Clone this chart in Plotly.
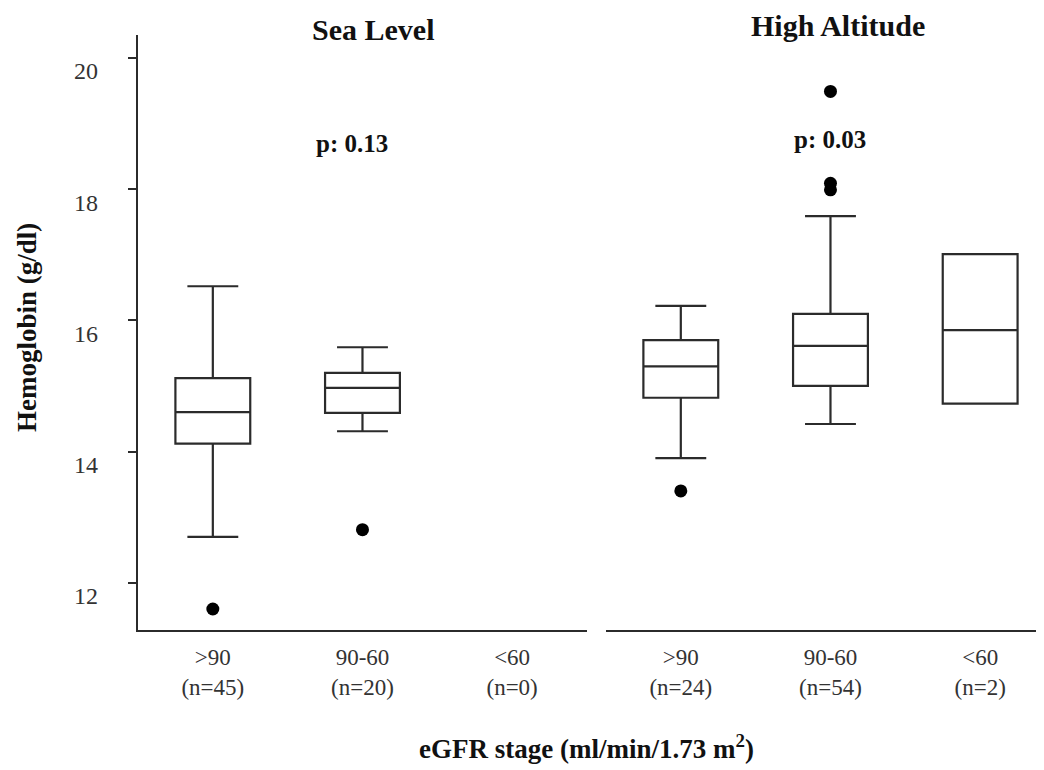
import plotly.graph_objects as go

# ---- data ----
stages = [">90", "90-60", "<60"]
sl_n = [45, 20, 0]
ha_n = [24, 54, 2]

# Sea level boxes (for >90 and 90-60; <60 has no data)
sl_lowerfence = [12.70, 14.31]
sl_q1 = [14.12, 14.59]
sl_median = [14.60, 14.97]
sl_q3 = [15.12, 15.20]
sl_upperfence = [16.52, 15.59]
sl_outlier_stage = [0, 1]
sl_outlier_val = [11.60, 12.81]

# High altitude boxes
ha_lowerfence = [13.90, 14.42, 14.73]
ha_q1 = [14.82, 15.00, 14.73]
ha_median = [15.30, 15.61, 15.85]
ha_q3 = [15.70, 16.10, 17.01]
ha_upperfence = [16.22, 17.59, 17.01]
ha_outlier_stage = [0, 1, 1, 1]
ha_outlier_val = [13.40, 19.49, 18.09, 17.99]

p_values = ["p: 0.13", "p: 0.03"]
panel_titles = ["Sea Level", "High Altitude"]
y_ticks = [12, 14, 16, 18, 20]

# ---- styling ----
FONT = "Liberation Serif"
LINE = "#2b2b2b"

fig = go.Figure()

def add_boxes(xs, lf, q1, med, q3, uf, xaxis, yaxis):
    for i, x in enumerate(xs):
        fig.add_trace(go.Box(
            x=[x], q1=[q1[i]], median=[med[i]], q3=[q3[i]],
            lowerfence=[lf[i]], upperfence=[uf[i]],
            width=0.5, whiskerwidth=0.68,
            fillcolor="white", line=dict(color=LINE, width=2.2),
            boxpoints=False, showlegend=False, hoverinfo="skip",
            xaxis=xaxis, yaxis=yaxis,
        ))

add_boxes([0, 1], sl_lowerfence, sl_q1, sl_median, sl_q3, sl_upperfence, "x", "y")
add_boxes([0, 1, 2], ha_lowerfence, ha_q1, ha_median, ha_q3, ha_upperfence, "x2", "y2")

fig.add_trace(go.Scatter(x=sl_outlier_stage, y=sl_outlier_val, mode="markers",
                         marker=dict(color="black", size=13), showlegend=False,
                         xaxis="x", yaxis="y"))
fig.add_trace(go.Scatter(x=ha_outlier_stage, y=ha_outlier_val, mode="markers",
                         marker=dict(color="black", size=13), showlegend=False,
                         xaxis="x2", yaxis="y2"))

sl_ticks = [f"{s}<br>(n={n})" for s, n in zip(stages, sl_n)]
ha_ticks = [f"{s}<br>(n={n})" for s, n in zip(stages, ha_n)]

yr = [11.28, 20.35]
xcommon = dict(showline=True, linecolor=LINE, linewidth=2.2, showgrid=False,
               zeroline=False, ticks="", tickvals=[0, 1, 2],
               tickfont=dict(family=FONT, size=23, color="#333"),
               ticklabelstandoff=5)

fig.update_layout(
    width=1044, height=770,
    margin=dict(l=130, r=0, t=27, b=148),
    paper_bgcolor="white", plot_bgcolor="white",
    font=dict(family=FONT),
    boxmode="overlay",
    xaxis=dict(domain=[0, 0.4912], range=[-0.5, 2.5], ticktext=sl_ticks, anchor="y", **xcommon),
    xaxis2=dict(domain=[0.5120, 1], range=[-0.5, 2.48], ticktext=ha_ticks, anchor="y2", **xcommon),
    yaxis=dict(range=yr, showline=True, linecolor=LINE, linewidth=2.2, ticks="outside",
               ticklen=8, tickwidth=2, tickcolor=LINE, showgrid=False, zeroline=False,
               tickvals=y_ticks, ticktext=[str(v) for v in y_ticks],
               tickfont=dict(family=FONT, size=24, color="#333"),
               ticklabelstandoff=25, ticklabelshift=13,
               anchor="x"),
    yaxis2=dict(range=yr, visible=False, anchor="x2", matches="y"),
)

# y-axis title
fig.add_annotation(text="<b>Hemoglobin (g/dl)</b>", textangle=-90, xref="paper", yref="paper",
                   x=0, y=0.5076, xshift=-111, xanchor="center", yanchor="middle",
                   showarrow=False, font=dict(family=FONT, size=27, color="#111"))
# panel titles
fig.add_annotation(text=f"<b>{panel_titles[0]}</b>", xref="x", yref="paper", x=1.07, y=1.0,
                   yanchor="middle", yshift=6, showarrow=False,
                   font=dict(family=FONT, size=30, color="#111"))
fig.add_annotation(text=f"<b>{panel_titles[1]}</b>", xref="x2", yref="paper", x=1.05, y=1.0,
                   yanchor="middle", yshift=10, showarrow=False,
                   font=dict(family=FONT, size=30, color="#111"))
# p-values
fig.add_annotation(text=f"<b>{p_values[0]}</b>", xref="x", yref="y", x=1, y=18.7, xshift=-10,
                   showarrow=False, font=dict(family=FONT, size=25, color="#111"))
fig.add_annotation(text=f"<b>{p_values[1]}</b>", xref="x2", yref="y2", x=1, y=18.76,
                   showarrow=False, font=dict(family=FONT, size=25, color="#111"))
# x title
fig.add_annotation(text="<b>eGFR stage (ml/min/1.73 m<sup>2</sup>)</b>", xref="paper", yref="paper",
                   x=0.4912, y=0, yshift=-117, xanchor="center", yanchor="middle",
                   showarrow=False, font=dict(family=FONT, size=27, color="#111"))

fig.write_html("out.html")
